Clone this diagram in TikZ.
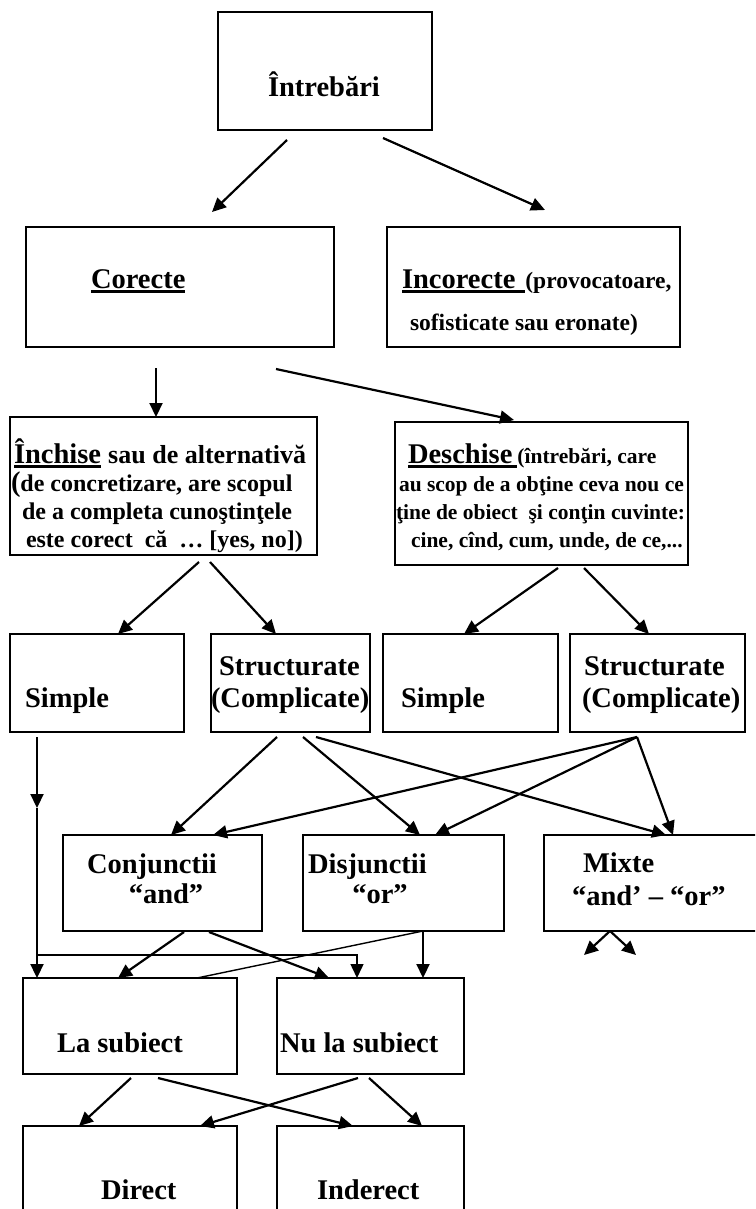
\documentclass[tikz,border=0pt]{standalone}
\usepackage{fontspec}
\setmainfont{Liberation Serif}
\usetikzlibrary{arrows.meta}
\newcommand{\fsA}{\fontsize{28.5}{30}\selectfont}
\newcommand{\fsB}{\fontsize{26}{28}\selectfont}
\newcommand{\fsD}{\fontsize{24}{26}\selectfont}
\newcommand{\fsC}{\fontsize{21.5}{23}\selectfont}
\newcommand{\fsE}{\fontsize{23.5}{25}\selectfont}
\newcommand{\myul}[2][0pt]{\setbox0\hbox{#2}\rlap{\rule[-5pt]{\dimexpr\wd0+#1\relax}{2.6pt}}\box0\hspace{#1}}
\begin{document}
\begin{tikzpicture}[x=1pt,y=-1pt,
  box/.style={draw,line width=1.8pt,rectangle,inner sep=0pt,outer sep=0pt,anchor=north west},
  lbl/.style={inner sep=0pt,outer sep=0pt,anchor=base west,font=\bfseries\fsA},
  sub/.style={lbl,font=\bfseries\fsD},
  dsub/.style={lbl,font=\bfseries\fsC},
  esub/.style={lbl,font=\bfseries\fsE},
  arr/.style={line width=2.2pt,-{Triangle[length=14pt,width=13pt]}},
  tarr/.style={line width=1.4pt,-{Triangle[length=14pt,width=13pt]}},
  ln/.style={line width=1.4pt}]
\useasboundingbox (0,0) rectangle (755,1209);
\fill[white] (0,0) rectangle (755,1209);
\clip (0,0) rectangle (755,1209);

% boxes
\node[box,minimum width=214pt,minimum height=118pt] (q) at (218,12) {};
\node[box,minimum width=308pt,minimum height=120pt] (cor) at (26,227) {};
\node[box,minimum width=293pt,minimum height=120pt] (inc) at (387,227) {};
\node[box,minimum width=307pt,minimum height=138pt] (inch) at (10,417) {};
\node[box,minimum width=293pt,minimum height=143pt] (desc) at (395,422) {};
\node[box,minimum width=174pt,minimum height=98pt] (s1) at (10,634) {};
\node[box,minimum width=159pt,minimum height=98pt] (st1) at (211,634) {};
\node[box,minimum width=175pt,minimum height=98pt] (s2) at (383,634) {};
\node[box,minimum width=175pt,minimum height=98pt] (st2) at (570,634) {};
\node[box,minimum width=199pt,minimum height=96pt] (conj) at (63,835) {};
\node[box,minimum width=201pt,minimum height=96pt] (disj) at (303,835) {};
\node[box,minimum width=220pt,minimum height=96pt] (mix) at (544,835) {};
\node[box,minimum width=214pt,minimum height=96pt] (la) at (23,978) {};
\node[box,minimum width=187pt,minimum height=96pt] (nu) at (277,978) {};
\node[box,minimum width=214pt,minimum height=100pt] (dir) at (23,1126) {};
\node[box,minimum width=187pt,minimum height=100pt] (ind) at (277,1126) {};

% texts
\node[lbl] (tq) at (268,97) {Întrebări};
\node[lbl] (tcor) at (91,288) {\myul{Corecte}};
\node[lbl] (tinc1) at (402,288) {\myul[10pt]{Incorecte}{\fsE(provocatoare,}};
\node[esub] (tinc2) at (410,330) {sofisticate sau eronate)};
\node[lbl] (i1) at (14,463) {\myul{Închise} {\fsB sau de alternativă}};
\node[sub] (i2) at (11,491) {{\fsA(}de concretizare, are scopul};
\node[sub] (i3) at (22,519) {de a completa cunoştinţele};
\node[sub] (i4) at (26,547) {este corect\ \ că\ \ … [yes, no])};
\node[lbl] (d1) at (408,463) {\myul[5pt]{Deschise}{\fsC(întrebări, care}};
\node[dsub] (d2) at (399,491) {au scop de a obţine ceva nou ce};
\node[dsub] (d3) at (396,519) {ţine de obiect\ \ şi conţin cuvinte:};
\node[dsub] (d4) at (411,547) {cine, cînd, cum, unde, de ce,...};
\node[lbl] (ts1) at (25,707) {Simple};
\node[lbl] (tst1a) at (219,675) {Structurate};
\node[lbl] (tst1b) at (211,707) {(Complicate)};
\node[lbl] (ts2) at (401,707) {Simple};
\node[lbl] (tst2a) at (584,675) {Structurate};
\node[lbl] (tst2b) at (582,707) {(Complicate)};
\node[lbl] (tc1) at (87,873) {Conjunctii};
\node[lbl,anchor=base] (tc2) at (166,903) {“and”};
\node[lbl] (td1) at (308,873) {Disjunctii};
\node[lbl,anchor=base] (td2) at (380,903) {“or”};
\node[lbl] (tm1) at (583,872) {Mixte};
\node[lbl] (tm2) at (572,905) {“and’ – “or”};
\node[lbl] (tla) at (57,1052) {La subiect};
\node[lbl] (tnu) at (280,1052) {Nu la subiect};
\node[lbl] (tdir) at (101,1199) {Direct};
\node[lbl] (tind) at (317,1199) {Inderect};

% connectors
\draw[arr] ([xshift=69pt,yshift=-10pt]q.south west) -- ([xshift=186pt,yshift=15pt]cor.north west);
\draw[arr] ([xshift=165pt,yshift=-8pt]q.south west) -- ([xshift=158pt,yshift=17pt]inc.north west);
\draw[arr] ([xshift=130pt,yshift=-21pt]cor.south west) -- ([xshift=146pt]inch.north west);
\draw[arr] ([xshift=250pt,yshift=-22pt]cor.south west) -- ([xshift=119pt,yshift=2pt]desc.north west);
\draw[arr] ([xshift=189pt,yshift=-7pt]inch.south west) -- ([xshift=108pt]s1.north west);
\draw[arr] ([xshift=200pt,yshift=-7pt]inch.south west) -- ([xshift=65pt]st1.north west);
\draw[arr] ([xshift=163pt,yshift=-3pt]desc.south west) -- ([xshift=81pt]s2.north west);
\draw[arr] ([xshift=189pt,yshift=-3pt]desc.south west) -- ([xshift=79pt]st2.north west);

\coordinate (m1) at ([xshift=27pt,yshift=-76pt]s1.south west);
\draw[arr] ([xshift=27pt,yshift=-5pt]s1.south west) -- (m1);
\draw[arr] (m1) -- ([xshift=14pt]la.north west);
\coordinate (br) at ([xshift=14pt,yshift=23pt]la.north west);
\draw[tarr] (br) -| ([xshift=80pt]nu.north west);

\draw[arr] ([xshift=66pt,yshift=-5pt]st1.south west) -- ([xshift=108pt]conj.north west);
\draw[arr] ([xshift=92pt,yshift=-5pt]st1.south west) -- ([xshift=117pt]disj.north west);
\draw[arr] ([xshift=105pt,yshift=-5pt]st1.south west) -- ([xshift=122pt]mix.north west);
\coordinate (s2o) at ([xshift=67pt,yshift=-5pt]st2.south west);
\draw[arr] (s2o) -- ([xshift=150pt]conj.north west);
\draw[arr] (s2o) -- ([xshift=132pt]disj.north west);
\draw[arr] (s2o) -- ([xshift=129pt]mix.north west);

\coordinate (mxa) at ([xshift=40pt,yshift=-24pt]mix.south west);
\coordinate (mxb) at ([xshift=92pt,yshift=-24pt]mix.south west);
\draw[arr] ([xshift=66pt]mix.south west) -- (mxa);
\draw[arr] ([xshift=66pt]mix.south west) -- (mxb);

\draw[arr] ([xshift=121pt,yshift=-1pt]conj.south west) -- ([xshift=95pt]la.north west);
\draw[arr] ([xshift=146pt,yshift=-1pt]conj.south west) -- ([xshift=52pt]nu.north west);
\draw[ln] ([xshift=120pt]disj.south west) -- ([xshift=174pt]la.north west);
\draw[arr] ([xshift=120pt]disj.south west) -- ([xshift=146pt]nu.north west);

\draw[arr] ([xshift=108pt,yshift=-4pt]la.south west) -- ([xshift=56pt]dir.north west);
\draw[arr] ([xshift=135pt,yshift=-4pt]la.south west) -- ([xshift=76pt]ind.north west);
\draw[arr] ([xshift=81pt,yshift=-4pt]nu.south west) -- ([xshift=177pt]dir.north west);
\draw[arr] ([xshift=92pt,yshift=-4pt]nu.south west) -- ([xshift=145pt]ind.north west);
\end{tikzpicture}
\end{document}
